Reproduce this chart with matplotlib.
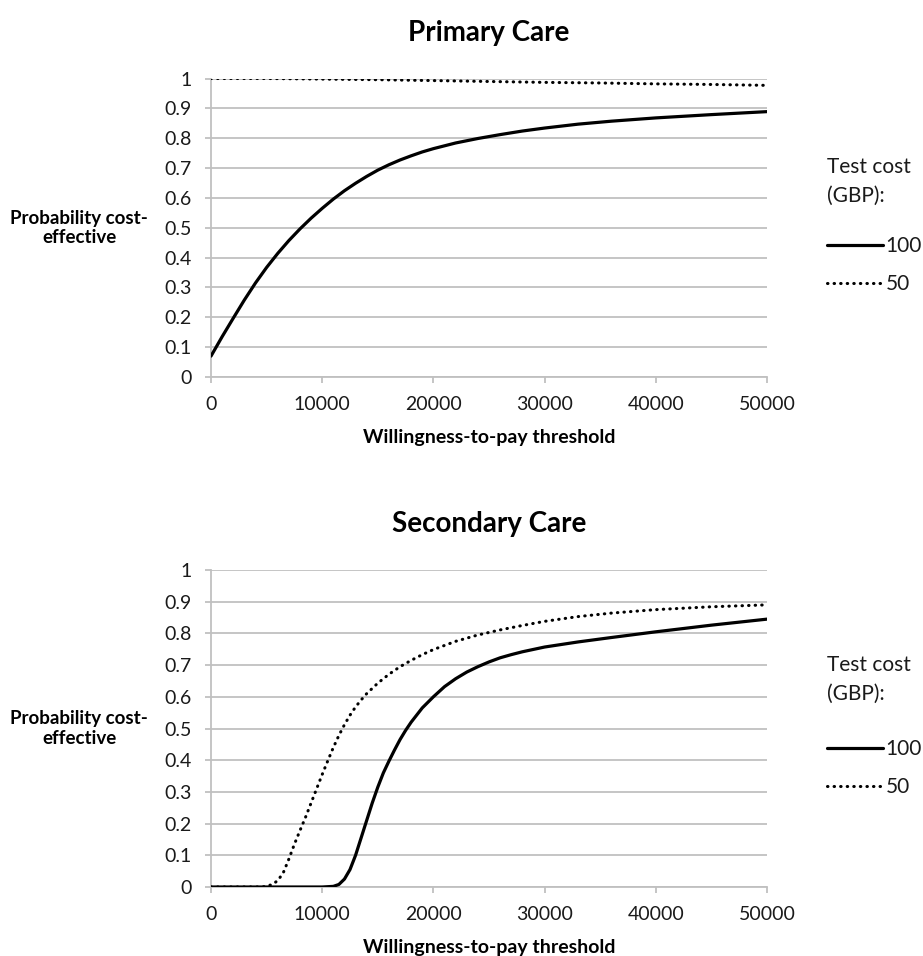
import matplotlib
matplotlib.use("Agg")
import matplotlib.pyplot as plt

plt.rcParams['font.family'] = ['Lato', 'DejaVu Sans']

# ---- data ----
wtp_primary_100 = [0, 1000, 2000, 3000, 4000, 5000, 6000, 7000, 8000, 9000, 10000, 11000, 12000,
                   13000, 14000, 15000, 16000, 17000, 18000, 19000, 20000, 22000, 24000, 26000,
                   28000, 30000, 33000, 36000, 40000, 45000, 50000]
prob_primary_100 = [0.07, 0.135, 0.197, 0.258, 0.315, 0.367, 0.414, 0.457, 0.496, 0.532, 0.565,
                    0.596, 0.624, 0.649, 0.672, 0.693, 0.711, 0.727, 0.741, 0.754, 0.765, 0.784,
                    0.799, 0.812, 0.824, 0.834, 0.847, 0.857, 0.868, 0.879, 0.889]

wtp_primary_50 = [0, 5000, 10000, 15000, 20000, 25000, 30000, 35000, 40000, 45000, 50000]
prob_primary_50 = [1.0, 1.0, 0.998, 0.996, 0.993, 0.99, 0.987, 0.985, 0.982, 0.98, 0.977]

wtp_secondary_100 = [0, 10000, 11000, 11500, 12000, 12500, 13000, 13500, 14000, 14500, 15000,
                     15500, 16000, 16500, 17000, 17500, 18000, 19000, 20000, 21000, 22000, 23000,
                     24000, 25000, 26000, 27000, 28000, 30000, 33000, 36000, 40000, 45000, 50000]
prob_secondary_100 = [0.0, 0.0, 0.002, 0.008, 0.025, 0.055, 0.1, 0.155, 0.21, 0.265, 0.315,
                      0.36, 0.397, 0.432, 0.465, 0.494, 0.52, 0.565, 0.6, 0.632, 0.657, 0.678,
                      0.695, 0.71, 0.723, 0.733, 0.742, 0.757, 0.773, 0.787, 0.805, 0.826, 0.845]

wtp_secondary_50 = [0, 4500, 5000, 5500, 6000, 6500, 7000, 7500, 8000, 8500, 9000, 9500, 10000,
                    10500, 11000, 11500, 12000, 12500, 13000, 13500, 14000, 15000, 16000, 17000,
                    18000, 19000, 20000, 22000, 24000, 26000, 28000, 30000, 33000, 36000, 40000,
                    45000, 50000]
prob_secondary_50 = [0.0, 0.0, 0.002, 0.008, 0.02, 0.045, 0.088, 0.135, 0.178, 0.22, 0.265, 0.31,
                     0.355, 0.398, 0.44, 0.478, 0.512, 0.542, 0.568, 0.59, 0.61, 0.643, 0.671,
                     0.695, 0.715, 0.733, 0.749, 0.775, 0.795, 0.811, 0.825, 0.838, 0.853, 0.864,
                     0.875, 0.884, 0.89]

titles = ["Primary Care", "Secondary Care"]
legend_labels = ["100", "50"]
x_ticks = [0, 10000, 20000, 30000, 40000, 50000]
y_ticks = [0, 0.1, 0.2, 0.3, 0.4, 0.5, 0.6, 0.7, 0.8, 0.9, 1]
y_tick_labels = ["0", "0.1", "0.2", "0.3", "0.4", "0.5", "0.6", "0.7", "0.8", "0.9", "1"]

# ---- figure ----
W, H = 923, 956
fig = plt.figure(figsize=(W / 100, H / 100), dpi=100)
GRID = "#c0c0c0"
TXT = "#1a1a1a"

panels = [
    (titles[0], (wtp_primary_100, prob_primary_100), (wtp_primary_50, prob_primary_50), 78.5, 377),
    (titles[1], (wtp_secondary_100, prob_secondary_100), (wtp_secondary_50, prob_secondary_50), 570, 887),
]

for title, s100, s50, ytop, ybot in panels:
    left, right = 211 / W, 767 / W
    ax = fig.add_axes([left, 1 - ybot / H, right - left, (ybot - ytop) / H])
    ax_h = ybot - ytop
    ax_w = 767 - 211
    l1, = ax.plot(s100[0], s100[1], color="black", lw=2.3, solid_capstyle="round",
                  solid_joinstyle="round", zorder=3)
    l2, = ax.plot(s50[0], s50[1], color="black", lw=2.2, linestyle=(0, (0.15, 2.0)),
                  dash_capstyle="round", zorder=3)
    ax.set_xlim(0, 50000)
    ax.set_ylim(0, 1)
    ax.set_xticks(x_ticks)
    ax.set_xticklabels([str(t) for t in x_ticks])
    ax.set_yticks(y_ticks)
    ax.set_yticklabels(y_tick_labels)
    ax.grid(axis="y", color=GRID, lw=1.3)
    ax.set_axisbelow(True)
    for s in ["top", "right"]:
        ax.spines[s].set_visible(False)
    for s in ["left", "bottom"]:
        ax.spines[s].set_color(GRID)
        ax.spines[s].set_linewidth(1.3)
    ax.tick_params(axis="both", colors=GRID, length=4.5, width=1.3, direction="out",
                   labelcolor=TXT, labelsize=14)
    ax.tick_params(axis="x", pad=9.5)
    ax.tick_params(axis="y", pad=9.5)
    ax.text(0.5, 1 + 46 / ax_h, title, transform=ax.transAxes, ha="center", va="center",
            fontsize=20, fontweight="bold", color="black")
    ax.text(-0.237, 0.5, "Probability cost-\neffective", transform=ax.transAxes,
            ha="center", va="center", fontsize=13.5, fontweight="bold", linespacing=1.15,
            color="black")
    ax.text(0.5, -61 / ax_h, "Willingness-to-pay threshold", transform=ax.transAxes,
            ha="center", va="center", fontsize=14, fontweight="bold", color="black")
    ax.text((827 - 211) / ax_w, 0.655, "Test cost\n(GBP):", transform=ax.transAxes,
            ha="left", va="center", fontsize=15, linespacing=1.5, color=TXT)
    leg = ax.legend([l1, l2], legend_labels, loc="center left",
                    bbox_to_anchor=((827 - 211) / ax_w, 0.375), frameon=False, fontsize=15,
                    handlelength=2.7, handletextpad=0.1, labelspacing=0.85,
                    borderaxespad=0, borderpad=0)
    for t in leg.get_texts():
        t.set_color(TXT)
    ax.set_zorder(1)

fig.savefig("out.png", dpi=100)
